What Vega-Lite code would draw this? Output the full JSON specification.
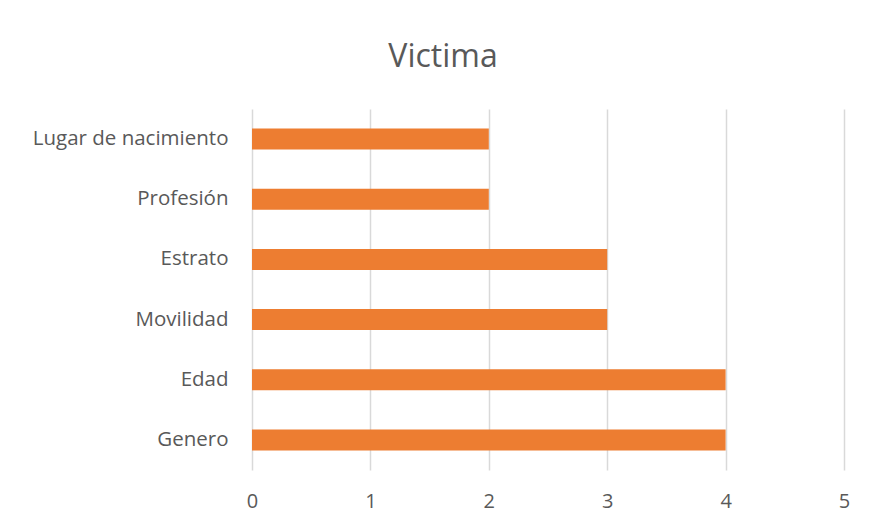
{
  "$schema": "https://vega.github.io/schema/vega-lite/v6.json",
  "autosize": {"type": "none"},
  "padding": {"left": 252, "top": 109, "right": 25, "bottom": 54},
  "width": 592,
  "height": 361,
  "background": "white",
  "title": {
    "text": "Victima",
    "font": "Open Sans",
    "fontSize": 32,
    "fontWeight": "normal",
    "color": "#595959",
    "anchor": "middle",
    "baseline": "alphabetic",
    "dx": -105,
    "offset": 10
  },
  "data": {
    "values": [
      {"categoria": "Lugar de nacimiento ", "valor": 2},
      {"categoria": "Profesión ", "valor": 2},
      {"categoria": "Estrato", "valor": 3},
      {"categoria": "Movilidad", "valor": 3},
      {"categoria": "Edad ", "valor": 4},
      {"categoria": "Genero", "valor": 4}
    ]
  },
  "mark": {"type": "bar", "color": "#ED7D31"},
  "encoding": {
    "y": {
      "field": "categoria",
      "type": "nominal",
      "sort": null,
      "scale": {"paddingInner": 0.65, "paddingOuter": 0.325},
      "axis": {
        "title": null,
        "ticks": false,
        "domain": false,
        "labelPadding": 24,
        "labelLimit": 400,
        "labelFont": "Open Sans",
        "labelFontSize": 20.5,
        "labelColor": "#595959",
        "grid": false
      }
    },
    "x": {
      "field": "valor",
      "type": "quantitative",
      "scale": {"domain": [0, 5], "nice": false},
      "axis": {
        "title": null,
        "values": [0, 1, 2, 3, 4, 5],
        "ticks": false,
        "domain": false,
        "grid": true,
        "gridColor": "#D9D9D9",
        "gridWidth": 1.5,
        "labelPadding": 21,
        "labelFont": "Open Sans",
        "labelFontSize": 20,
        "labelColor": "#595959",
        "labelFlush": false
      }
    }
  },
  "config": {"view": {"stroke": null}}
}
